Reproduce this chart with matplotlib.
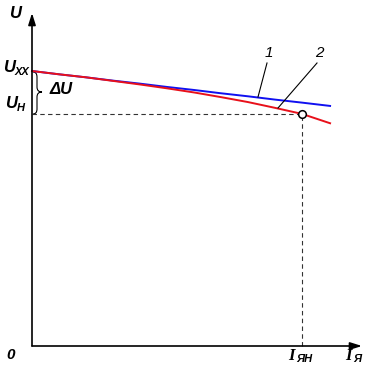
import numpy as np
import matplotlib.pyplot as plt
from matplotlib.path import Path
from matplotlib.patches import PathPatch

# armature current in units of rated current, terminal voltage in units of U_xx
current = [0.0, 0.1, 0.2, 0.3, 0.4, 0.5, 0.6, 0.7, 0.8, 0.9, 1.0, 1.104]
u_line1 = [1.0, 0.988, 0.977, 0.965, 0.954, 0.942, 0.931, 0.919, 0.908,
           0.896, 0.885, 0.873]
u_line2 = [1.0, 0.988, 0.977, 0.964, 0.951, 0.937, 0.922, 0.905, 0.887,
           0.866, 0.844, 0.810]
i_rated = 1.0
u_rated = 0.844

# pixel geometry of the reference
X0, Y0, SX, SY = 32, 346, 270, 275


def px(x, y):
    return ((x - X0) / SX, (Y0 - y) / SY)


fig = plt.figure(figsize=(3.68, 3.75), dpi=100)
ax = fig.add_axes([0, 0, 1, 1])
ax.set_xlim(px(0, 0)[0], px(368, 0)[0])
ax.set_ylim(px(0, 375)[1], px(0, 0)[1])
ax.axis("off")

# axes with arrows
ax.annotate("", xy=px(362, 346), xytext=(0, 0),
            arrowprops=dict(arrowstyle="-|>,head_length=0.7,head_width=0.22",
                            lw=1.2, color="black", shrinkA=0, shrinkB=0))
ax.annotate("", xy=px(32, 13), xytext=(0, 0),
            arrowprops=dict(arrowstyle="-|>,head_length=0.7,head_width=0.22",
                            lw=1.2, color="black", shrinkA=0, shrinkB=0))

# dashed guide lines to the rated point
ax.plot([0, i_rated], [u_rated, u_rated], color="#333333", lw=0.8,
        dashes=(4, 3))
ax.plot([i_rated, i_rated], [0, u_rated], color="#333333", lw=0.8,
        dashes=(4, 3))

ax.plot(current, u_line1, color="#1010f0", lw=1.4)
ax.plot(current, u_line2, color="#e8101a", lw=1.4)
ax.plot([i_rated], [u_rated], "o", ms=5.5, mfc="white", mec="black", mew=1.1,
        zorder=5)

# leader lines for curve numbers
ax.plot(*zip(px(267, 63), px(258, 97)), color="black", lw=0.8)
ax.plot(*zip(px(317, 63), px(278, 108)), color="black", lw=0.8)

font = dict(family="Liberation Sans", fontweight="bold", fontstyle="italic",
            color="black")
ax.text(*px(269, 60), "1", fontsize=11, ha="center", va="bottom",
        family="Liberation Sans", fontstyle="italic")
ax.text(*px(319, 60), "2", fontsize=11, ha="center", va="bottom",
        family="Liberation Sans", fontstyle="italic")

ax.text(*px(15, 13), "U", fontsize=12, ha="center", va="center", **font)
ax.text(*px(3, 68), "U", fontsize=12, ha="left", va="center", **font)
ax.text(*px(15, 72), "XX", fontsize=8, ha="left", va="center", **font)
ax.text(*px(5, 104), "U", fontsize=12, ha="left", va="center", **font)
ax.text(*px(17, 108), "H", fontsize=8, ha="left", va="center", **font)
ax.text(*px(50, 90), "ΔU", fontsize=12, ha="left", va="center", **font)
ax.text(*px(11, 355), "0", fontsize=11, ha="center", va="center", **font)
ax.text(*px(288, 356), "I", fontsize=12, ha="left", va="center",
        family="Liberation Serif", fontweight="bold", fontstyle="italic")
ax.text(*px(296, 359), "ЯН", fontsize=8, ha="left", va="center", **font)
ax.text(*px(345, 356), "I", fontsize=12, ha="left", va="center",
        family="Liberation Serif", fontweight="bold", fontstyle="italic")
ax.text(*px(353, 359), "Я", fontsize=8, ha="left", va="center", **font)

# curly brace for delta U
bx = [(33, 72), (37, 72), (37, 77), (37, 87), (37, 92), (42, 92),
      (37, 92), (37, 97), (37, 109), (37, 114), (33, 114)]
verts = [px(x, y) for x, y in bx]
codes = [Path.MOVETO, Path.CURVE3, Path.CURVE3, Path.LINETO, Path.CURVE3,
         Path.CURVE3, Path.CURVE3, Path.CURVE3, Path.LINETO, Path.CURVE3,
         Path.CURVE3]
ax.add_patch(PathPatch(Path(verts, codes), fill=False, lw=0.8,
                       edgecolor="black"))

fig.savefig("out.png", dpi=100)
